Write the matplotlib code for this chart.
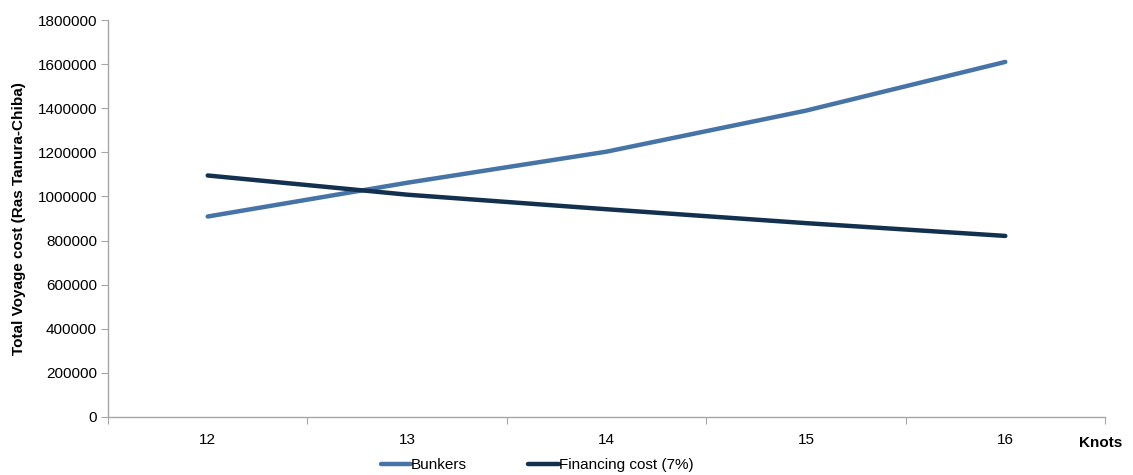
import matplotlib
matplotlib.use("Agg")
import matplotlib.pyplot as plt

knots = ["12", "13", "14", "15", "16"]
bunkers = [909000, 1062000, 1203000, 1389000, 1610000]
financing = [1095000, 1008000, 942000, 879000, 821000]
y_ticks = [0, 200000, 400000, 600000, 800000, 1000000, 1200000, 1400000, 1600000, 1800000]

plt.rcParams['font.family'] = ['Liberation Sans', 'DejaVu Sans']

fig = plt.figure(figsize=(11.33, 4.75), dpi=100)
ax = fig.add_axes([108/1133, 1 - 417/475, (1105-108)/1133, (417-20)/475])

x = list(range(len(knots)))
l1, = ax.plot(x, bunkers, color="#4674A6", lw=3.2, solid_capstyle="round", label="Bunkers")
l2, = ax.plot(x, financing, color="#13304F", lw=3.2, solid_capstyle="round", label="Financing cost (7%)")

ax.set_xlim(-0.5, len(knots) - 0.5)
ax.set_ylim(0, 1800000)
ax.set_yticks(y_ticks)
ax.set_yticklabels([str(v) for v in y_ticks], fontsize=11)

ax.set_xticks([i - 0.5 for i in range(len(knots) + 1)])
ax.set_xticklabels([])
ax.set_xticks(x, minor=True)
ax.set_xticklabels(knots, minor=True, fontsize=11)
ax.tick_params(axis="x", which="minor", length=0, pad=11.5)
ax.tick_params(axis="x", which="major", length=5, color="#A6A6A6", direction="out")
ax.tick_params(axis="y", length=5, color="#A6A6A6", direction="out", pad=3)

for s in ["top", "right"]:
    ax.spines[s].set_visible(False)
for s in ["left", "bottom"]:
    ax.spines[s].set_color("#A6A6A6")
    ax.spines[s].set_linewidth(1.0)

ax.set_ylabel("Total Voyage cost (Ras Tanura-Chiba)", fontsize=11, fontweight="bold", labelpad=8)
fig.text(1101/1133, 1 - 443/475, "Knots", fontsize=11, fontweight="bold", ha="center", va="center")

fig.legend(handles=[l1, l2], loc="center", bbox_to_anchor=(537/1133, 1 - 465/475), ncol=2,
           frameon=False, fontsize=11, handlelength=2.0, handletextpad=0.0, columnspacing=4.0)

fig.savefig("out.png", dpi=100)
